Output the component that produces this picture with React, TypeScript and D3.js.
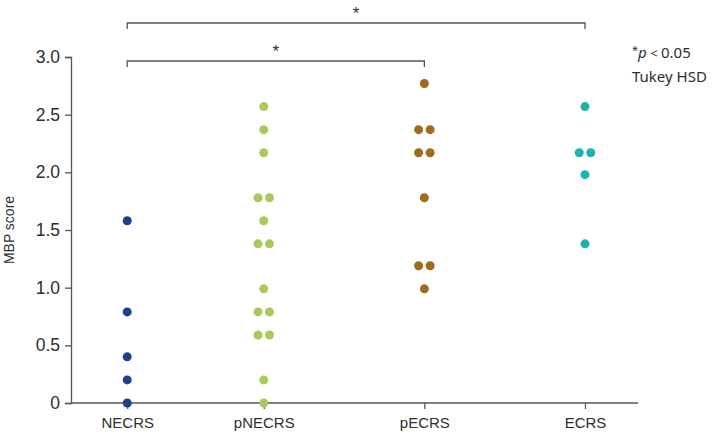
import React, { useEffect, useRef } from 'react';
import * as d3 from 'd3';

// Groups and their MBP scores
const groups = ['NECRS', 'pNECRS', 'pECRS', 'ECRS'];
const necrs = [1.58, 0.79, 0.4, 0.2, 0];
const pnecrs = [2.57, 2.37, 2.17, 1.78, 1.78, 1.58, 1.38, 1.38, 0.99, 0.79, 0.79, 0.59, 0.59, 0.2, 0];
const pecrs = [2.77, 2.37, 2.37, 2.17, 2.17, 1.78, 1.19, 1.19, 0.99];
const ecrs = [2.57, 2.17, 2.17, 1.98, 1.38];
const yTicks = [0, 0.5, 1.0, 1.5, 2.0, 2.5, 3.0];

// Significant pairs (Tukey HSD)
const comparisons = [
  { from: 'NECRS', to: 'ECRS', label: '*' },
  { from: 'NECRS', to: 'pECRS', label: '*' },
];

const groupColors = ['#1f3e8e', '#a9c95b', '#9f6c1d', '#1fb0b1'];
// horizontal slot of each group on the x axis (groups are not evenly spaced)
const groupSlots = [0.15, 1, 2, 3];

const App = () => {
  const ref = useRef<SVGSVGElement>(null);

  useEffect(() => {
    const width = 712;
    const height = 436;
    const svg = d3.select(ref.current);
    svg.selectAll('*').remove();
    svg.attr('width', width).attr('height', height);

    const values = [necrs, pnecrs, pecrs, ecrs];

    const xScale = d3.scaleLinear().domain([-0.2, 3.33]).range([71, 638]);
    const yScale = d3.scaleLinear().domain([0, 3]).range([403, 57]);
    const xOf = (g: string) => xScale(groupSlots[groups.indexOf(g)]);

    const axisColor = '#555';
    const textColor = '#2e2e2e';
    const font = 'Arial, "Liberation Sans", sans-serif';
    const noteFont = '"Noto Sans", sans-serif';

    // y axis
    const yAxis = svg.append('g')
      .attr('transform', 'translate(71,0)')
      .attr('font-size', null)
      .attr('font-family', null)
      .call(d3.axisLeft(yScale)
        .tickValues(yTicks)
        .tickSize(6)
        .tickPadding(5)
        .tickFormat(d => (+d === 0 ? '0' : (+d).toFixed(1))));
    yAxis.select('.domain').attr('stroke', axisColor).attr('stroke-width', 1.3);
    yAxis.selectAll('.tick line').attr('stroke', axisColor).attr('stroke-width', 1.3);
    yAxis.selectAll('.tick text')
      .attr('fill', textColor)
      .style('font-family', font)
      .style('font-size', '17.5px');

    // x axis
    const xAxis = svg.append('g')
      .attr('transform', 'translate(0,403)')
      .call(d3.axisBottom(xScale)
        .tickValues(groupSlots)
        .tickSize(6)
        .tickPadding(8)
        .tickFormat((d, i) => groups[i]));
    xAxis.select('.domain').attr('stroke', axisColor).attr('stroke-width', 1.3)
      .attr('d', `M${xScale.range()[0]},0H${xScale.range()[1]}`);
    xAxis.selectAll('.tick line').attr('stroke', axisColor).attr('stroke-width', 1.3);
    xAxis.selectAll('.tick text')
      .attr('fill', textColor)
      .style('font-family', font)
      .style('font-size', '15px');

    // y axis title
    svg.append('text')
      .attr('transform', `translate(14,${(yScale(0) + yScale(3)) / 2}) rotate(-90)`)
      .attr('text-anchor', 'middle')
      .attr('fill', textColor)
      .style('font-family', font)
      .style('font-size', '14px')
      .text('MBP score');

    // dots, duplicate values placed side by side
    const spread = 11.5;
    groups.forEach((g, gi) => {
      const counts = d3.rollup(values[gi], v => v.length, v => v);
      const seen = new Map<number, number>();
      const pts = values[gi].map(v => {
        const n = counts.get(v) || 1;
        const k = seen.get(v) || 0;
        seen.set(v, k + 1);
        return { v, dx: (k - (n - 1) / 2) * spread };
      });
      svg.append('g')
        .selectAll('circle')
        .data(pts)
        .enter()
        .append('circle')
          .attr('cx', d => xOf(g) + d.dx)
          .attr('cy', d => yScale(d.v))
          .attr('r', 4.5)
          .attr('fill', groupColors[gi]);
    });

    // significance brackets
    const bracketY = [23, 61];
    comparisons.forEach((c, i) => {
      const x1 = xOf(c.from);
      const x2 = xOf(c.to);
      const y = bracketY[i];
      svg.append('path')
        .attr('d', `M${x1},${y + 6}V${y}H${x2}V${y + 6}`)
        .attr('fill', 'none')
        .attr('stroke', axisColor)
        .attr('stroke-width', 1.3);
      svg.append('text')
        .attr('x', (x1 + x2) / 2)
        .attr('y', y - 4)
        .attr('text-anchor', 'middle')
        .attr('fill', textColor)
        .style('font-family', font)
        .style('font-size', '17px')
        .text(c.label);
    });

    // note
    const note = svg.append('text')
      .attr('x', 632)
      .attr('y', 58)
      .attr('fill', textColor)
      .style('font-family', noteFont)
      .style('font-size', '15px');
    note.append('tspan').attr('dy', -4).style('font-size', '11px').text('*');
    note.append('tspan').attr('dy', 4).style('font-style', 'italic').text('p');
    note.append('tspan').style('font-size', '13px').text(' < ');
    note.append('tspan').text('0.05');
    svg.append('text')
      .attr('x', 632)
      .attr('y', 82)
      .attr('fill', textColor)
      .style('font-family', noteFont)
      .style('font-size', '15px')
      .text('Tukey HSD');
  });

  return (
    <svg ref={ref} style={{ position: 'absolute', left: 0, top: 0, display: 'block' }} />
  );
};

export default App;
